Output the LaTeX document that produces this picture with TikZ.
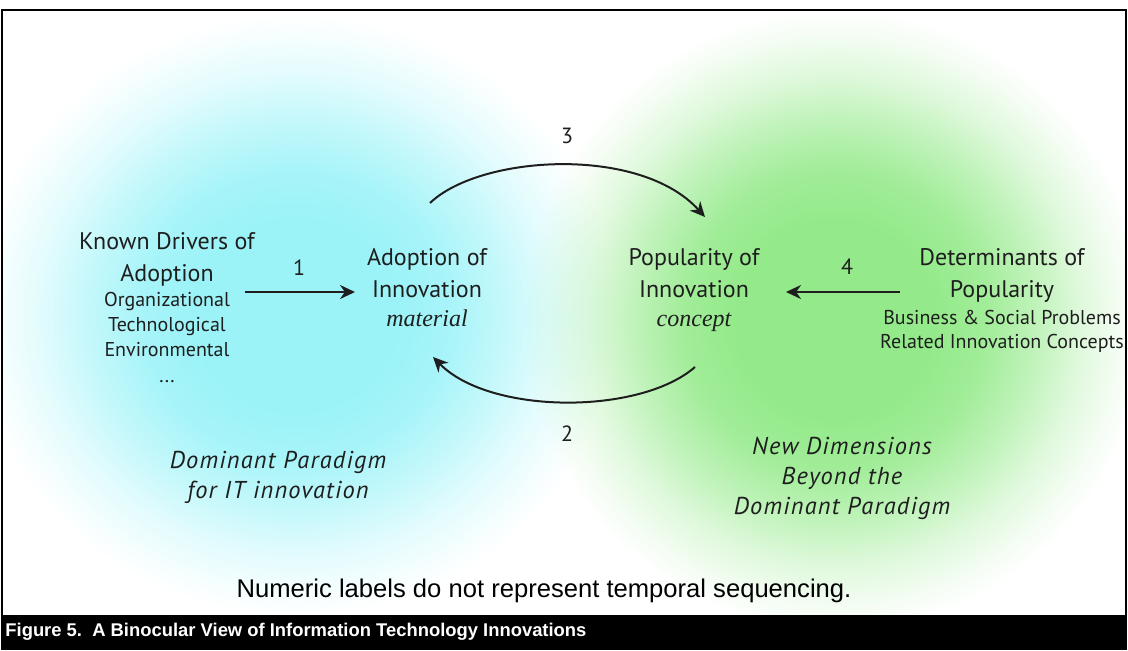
\documentclass[tikz,border=0pt]{standalone}
\usepackage{fontspec}
\setsansfont{PT Sans}
\newfontfamily\arialfont{Liberation Sans}
\newfontfamily\timesfont{Liberation Serif}
\newfontfamily\parafont{PT Sans}[LetterSpace=5]
\usepackage{tikz}
\usetikzlibrary{arrows.meta, fadings}
\definecolor{blobcyan}{RGB}{155,243,248}
\definecolor{blobgreen}{RGB}{148,234,138}
\definecolor{ink}{RGB}{30,30,30}
\pgfdeclareradialshading{blobshade}{\pgfpointorigin}{color(0bp)=(white); color(8bp)=(white); color(12bp)=(black!12); color(16bp)=(black!40); color(20bp)=(black!72); color(23bp)=(black!90); color(25bp)=(black); color(50bp)=(black)}
\pgfdeclarefading{softblob}{\pgfuseshading{blobshade}}
\tikzstyle{bigtext} = [anchor=north, align=center, inner sep=0pt, text=ink, font=\sffamily\fontsize{12}{16}\selectfont]
\tikzstyle{paratext} = [anchor=north, align=center, inner sep=0pt, text=ink, font=\parafont\itshape\fontsize{12.2}{15}\selectfont]
\tikzstyle{numlabel} = [inner sep=0pt, text=ink, font=\sffamily\fontsize{11}{13}\selectfont]
\tikzstyle{arrow} = [line width=1pt, ink, -{Stealth[length=7.5pt, width=7pt]}]
\newcommand{\minor}[1]{{\fontsize{10}{12}\selectfont #1}}
\newcommand{\kind}[1]{{\timesfont\itshape #1}}

\begin{document}
\begin{tikzpicture}[x=0.5pt, y=-0.5pt]
    \useasboundingbox (0,0) rectangle (1128,650);
    \begin{scope}
        \clip (3,11) rectangle (1125,615);
        \fill[blobcyan, path fading=softblob] (295,315) ellipse (320 and 300);
        \fill[blobgreen, path fading=softblob] (835,320) ellipse (310 and 310);
    \end{scope}
    \draw[line width=1pt] (2,10) rectangle (1126,649);

    \node (drivers) [bigtext] at (167,232) {Known Drivers of\\Adoption\\[-3.5pt]\minor{Organizational}\\[-3.5pt]\minor{Technological}\\[-3.5pt]\minor{Environmental}\\[-3pt]\minor{...}};
    \node (adopt) [bigtext] at (427,248) {Adoption of\\Innovation\\[-1.5pt]\kind{material}};
    \node (popul) [bigtext] at (694,248) {Popularity of\\Innovation\\[-1.5pt]\kind{concept}};
    \node (determ) [bigtext] at (1002,248) {Determinants of\\Popularity\\[-2.5pt]\minor{Business \& Social Problems}\\[-4pt]\minor{Related Innovation Concepts}};
    \node (domin) [paratext] at (278,451) {Dominant Paradigm\\for IT innovation};
    \node (newdim) [paratext] at (842,437) {New Dimensions\\Beyond the\\Dominant Paradigm};

    \node (n1) [numlabel] at (299,268) {1};
    \node (n2) [numlabel] at (567,434) {2};
    \node (n3) [numlabel] at (567,136) {3};
    \node (n4) [numlabel] at (847,267) {4};

    \coordinate (s1) at (245,292);
    \coordinate (t1) at (355,292);
    \coordinate (s4) at (900,292);
    \coordinate (t4) at (786,292);
    \coordinate (s3) at (430,203);
    \coordinate (t3) at (705,217);
    \coordinate (s2) at (695,367);
    \coordinate (t2) at (433,357);
    \draw [arrow] (s1) -- (t1);
    \draw [arrow] (s4) -- (t4);
    \draw [arrow] (s3) .. controls (480,155) and (640,145) .. (t3);
    \draw [arrow] (s2) .. controls (640,415) and (490,415) .. (t2);

    \node (note) [inner sep=0pt, font=\arialfont\fontsize{12.8}{15}\selectfont] at (544,591) {Numeric labels do not represent temporal sequencing.};
    \fill[black] (1,615) rectangle (1127,650);
    \node (caption) [anchor=west, inner sep=0pt, text=white, font=\arialfont\bfseries\fontsize{9.2}{11}\selectfont] at (5,632) {Figure 5.\ \ A Binocular View of Information Technology Innovations};
\end{tikzpicture}
\end{document}
